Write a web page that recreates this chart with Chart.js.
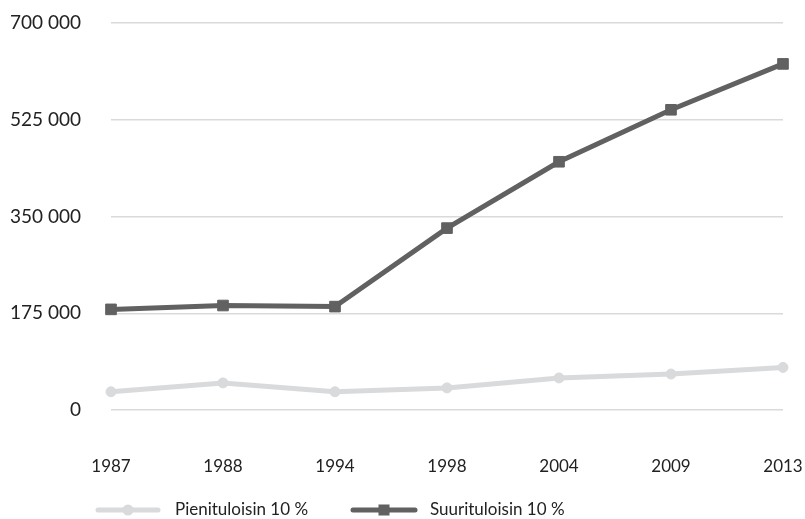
<!DOCTYPE html>
<html>
<head>
<meta charset="utf-8">
<script src="https://cdn.jsdelivr.net/npm/chart.js@4/dist/chart.umd.min.js"></script>
<style>
  html, body { margin: 0; padding: 0; background: #ffffff; overflow: hidden; }
  canvas { display: block; }
</style>
</head>
<body>
<canvas id="chart" width="805" height="519"></canvas>
<script>
// Vuodet
const years = ['1987', '1988', '1994', '1998', '2004', '2009', '2013'];
// Pienituloisin 10 %
const pienituloisin = [33000, 49000, 33000, 40000, 58000, 65000, 77000];
// Suurituloisin 10 %
const suurituloisin = [182000, 189000, 187000, 329000, 449000, 543000, 626000];
// Y-akselin jaot
const yTicks = [0, 175000, 350000, 525000, 700000];

const FONT = 'Lato, "Open Sans", sans-serif';
const TEXT = '#222222';
const LIGHT = '#d9dadc';
const DARK = '#616161';

function fmt(v) {
  return String(v).replace(/\B(?=(\d{3})+(?!\d))/g, ' ');
}

// Selite piirretään viivanäytteellä ja merkillä
const legendPlugin = {
  id: 'bottomLegend',
  afterDraw(chart) {
    const ctx = chart.ctx;
    const y = 510;
    const items = [
      { ds: 0, x0: 98, x1: 158, tx: 175 },
      { ds: 1, x0: 353, x1: 415, tx: 430 }
    ];
    ctx.save();
    items.forEach(it => {
      const ds = chart.data.datasets[it.ds];
      ctx.strokeStyle = ds.borderColor;
      ctx.lineWidth = 5;
      ctx.lineCap = 'round';
      ctx.beginPath();
      ctx.moveTo(it.x0, y);
      ctx.lineTo(it.x1, y);
      ctx.stroke();
      const cx = (it.x0 + it.x1) / 2;
      ctx.fillStyle = ds.borderColor;
      if (ds.pointStyle === 'rect') {
        ctx.fillRect(cx - 5.5, y - 5.5, 11, 11);
      } else {
        ctx.beginPath();
        ctx.arc(cx, y, 5.5, 0, Math.PI * 2);
        ctx.fill();
      }
      ctx.fillStyle = TEXT;
      ctx.font = '17px ' + FONT;
      ctx.textBaseline = 'middle';
      ctx.textAlign = 'left';
      ctx.fillText(ds.label, it.tx, y);
    });
    ctx.restore();
  }
};

new Chart(document.getElementById('chart'), {
  type: 'line',
  data: {
    labels: years,
    datasets: [
      {
        label: 'Pienituloisin 10 %',
        data: pienituloisin,
        borderColor: LIGHT,
        backgroundColor: LIGHT,
        borderWidth: 5,
        pointStyle: 'circle',
        pointRadius: 5,
        pointBorderWidth: 1,
        tension: 0
      },
      {
        label: 'Suurituloisin 10 %',
        data: suurituloisin,
        borderColor: DARK,
        backgroundColor: DARK,
        borderWidth: 5,
        pointStyle: 'rect',
        pointRadius: 7.5,
        pointBorderWidth: 1,
        tension: 0
      }
    ]
  },
  options: {
    responsive: false,
    animation: false,
    layout: { padding: { top: 23, right: 22, bottom: 0, left: 0 } },
    plugins: {
      legend: { display: false },
      tooltip: { enabled: false }
    },
    scales: {
      x: {
        offset: false,
        grid: { display: false },
        border: { display: false },
        ticks: { color: TEXT, font: { family: FONT, size: 17 }, padding: 38, maxRotation: 0 },
        afterFit(scale) {
          scale.height = 109;
          scale.paddingLeft = 0;
          scale.paddingRight = 0;
        }
      },
      y: {
        min: 0,
        max: 700000,
        grid: { color: LIGHT, lineWidth: 1.5, drawTicks: false },
        border: { display: false },
        afterBuildTicks(scale) { scale.ticks = yTicks.map(v => ({ value: v })); },
        ticks: {
          color: TEXT,
          font: { family: FONT, size: 19 },
          padding: 30,
          callback: v => fmt(v)
        },
        afterFit(scale) {
          scale.width = 111;
          scale.paddingTop = 0;
          scale.paddingBottom = 0;
        }
      }
    }
  },
  plugins: [legendPlugin]
});
</script>
</body>
</html>
